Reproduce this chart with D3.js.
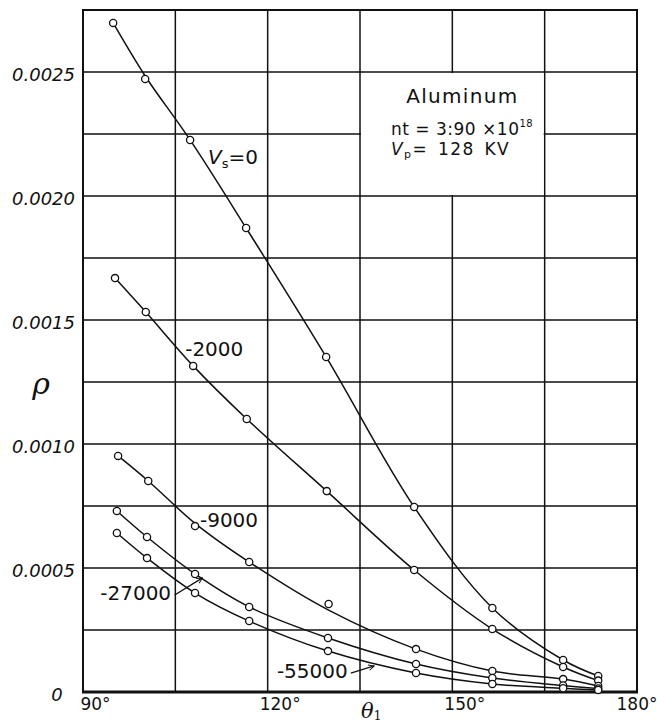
<!DOCTYPE html>
<html>
<head>
<meta charset="utf-8">
<script src="https://cdn.jsdelivr.net/npm/d3@7"></script>
<style>
  body { margin: 0; background: #fff; }
  svg { display: block; }
</style>
</head>
<body>
<svg id="chart" width="657" height="726"></svg>
<script>
// Ratio ρ versus scattering angle θ1 for aluminum, one curve per retarding voltage Vs.

// Angles (degrees) of the measured points for each Vs
const thetaV0     = [94.9, 100.1, 107.4, 116.5, 129.5, 143.8, 156.5, 168.0, 173.7];
const thetaN2000  = [95.2, 100.2, 107.9, 116.6, 129.6, 143.8, 156.5, 168.0, 173.7];
const thetaN9000  = [95.7, 100.6, 108.2, 117.0, 129.9, 144.1, 156.5, 168.0, 173.7];
const thetaN27000 = [95.5, 100.4, 108.2, 117.0, 129.8, 144.1, 156.5, 168.0, 173.7];
const thetaN55000 = [95.5, 100.4, 108.2, 117.0, 129.8, 144.1, 156.5, 168.0, 173.7];

// Measured ρ values
const rhoV0     = [0.002698, 0.002472, 0.002226, 0.001871, 0.001351, 0.000746, 0.000339, 0.000129, 0.0000645];
const rhoN2000  = [0.001669, 0.001532, 0.001315, 0.001101, 0.000810, 0.000492, 0.000254, 0.000101, 0.000046];
const rhoN9000  = [0.000952, 0.000851, 0.000669, 0.000524, 0.000355, 0.000173, 0.0000847, 0.000052, 0.000024];
const rhoN27000 = [0.000730, 0.000625, 0.000476, 0.000343, 0.000218, 0.000113, 0.0000565, 0.000026, 0.000014];
const rhoN55000 = [0.000641, 0.000540, 0.000399, 0.000286, 0.000165, 0.0000766, 0.0000323, 0.000015, 0.000008];

// Smoothed curve values where the drawn curve departs from a measured point
const fitV0    = [0.002698, 0.002484, 0.002226, 0.001871, 0.001351, 0.000746, 0.000339, 0.000129, 0.0000645];
const fitN9000 = [0.000952, 0.000851, 0.000680, 0.000524, 0.000330, 0.000173, 0.0000847, 0.000052, 0.000024];

// Curve labels and their anchor positions in data units [θ, ρ]
const curveLabels = ["0", "-2000", "-9000", "-27000", "-55000"];
const labelTheta  = [110.3, 106.6, 109.0, 92.8, 121.5];
const labelRho    = [0.002129, 0.001355, 0.000665, 0.000371, 0.0000565];

// Pointer arrows for the two lowest curves: [θ0, ρ0, θ1, ρ1]
const arrowN27000 = [104.9, 0.000391, 109.4, 0.000460];
const arrowN55000 = [133.5, 0.0000766, 137.3, 0.000105];

// Axis ticks
const xGridValues = [90, 105, 120, 135, 150, 165, 180];
const xTickValues = [90, 120, 150, 180];
const yGridValues = d3.range(0, 11.5).map(i => i * 0.00025);
const yTickValues = [0.0025, 0.0020, 0.0015, 0.0010, 0.0005, 0];
const yTickLabels = ["0.0025", "0.0020", "0.0015", "0.0010", "0.0005", "0"];

const series = [
  { label: curveLabels[0], theta: thetaV0,     rho: rhoV0,     fit: fitV0 },
  { label: curveLabels[1], theta: thetaN2000,  rho: rhoN2000,  fit: rhoN2000 },
  { label: curveLabels[2], theta: thetaN9000,  rho: rhoN9000,  fit: fitN9000 },
  { label: curveLabels[3], theta: thetaN27000, rho: rhoN27000, fit: rhoN27000 },
  { label: curveLabels[4], theta: thetaN55000, rho: rhoN55000, fit: rhoN55000 }
];

const svg = d3.select("#chart");
const ink = "#111";
const font = "'DejaVu Sans', 'Noto Sans', sans-serif";

const x = d3.scaleLinear().domain([90, 180]).range([83, 637]);
const y = d3.scaleLinear().domain([0, 0.00275]).range([692, 10]);

// Grid
const grid = svg.append("g").attr("stroke", ink).attr("stroke-width", 1.5);
grid.selectAll("line.v").data(xGridValues).join("line")
  .attr("class", "v")
  .attr("x1", d => x(d)).attr("x2", d => x(d))
  .attr("y1", y(0)).attr("y2", y(0.00275));
grid.selectAll("line.h").data(yGridValues).join("line")
  .attr("class", "h")
  .attr("x1", x(90)).attr("x2", x(180))
  .attr("y1", d => y(d)).attr("y2", d => y(d));

// Clear panel behind the sample description
svg.append("rect")
  .attr("x", x(135) + 1).attr("y", y(0.0025) + 1)
  .attr("width", x(165) - x(135) - 2).attr("height", y(0.0020) - y(0.0025) - 2)
  .attr("fill", "#fff");

// Frame
svg.append("rect")
  .attr("x", x(90)).attr("y", y(0.00275))
  .attr("width", x(180) - x(90)).attr("height", y(0) - y(0.00275))
  .attr("fill", "none").attr("stroke", ink).attr("stroke-width", 2);
svg.append("line")
  .attr("x1", x(90) - 1).attr("x2", x(180) + 1)
  .attr("y1", y(0)).attr("y2", y(0))
  .attr("stroke", ink).attr("stroke-width", 3);

// ρ tick labels: decimals share a left edge, the zero sits nearer the axis
svg.append("g").selectAll("text").data(yTickValues).join("text")
  .attr("x", d => d === 0 ? x(90) - 26 : 12)
  .attr("y", d => y(d))
  .attr("dy", "0.5em")
  .attr("text-anchor", d => d === 0 ? "middle" : "start")
  .attr("font-family", font).attr("font-size", 18).attr("font-style", "italic")
  .attr("fill", ink)
  .text((d, i) => yTickLabels[i]);

// θ tick labels
const xAxisG = svg.append("g")
  .attr("transform", `translate(0,${y(0)})`)
  .call(d3.axisBottom(x).tickValues(xTickValues)
    .tickFormat(d => d + "°").tickSize(0).tickPadding(6));
xAxisG.select(".domain").remove();
xAxisG.attr("font-family", null).attr("font-size", null);
xAxisG.selectAll("text")
  .attr("font-family", font).attr("font-size", 17).attr("fill", ink)
  .attr("text-anchor", d => d === 180 ? "end" : "middle")
  .attr("dx", d => d === 180 ? 20 : 12);

// Axis titles
svg.append("text")
  .attr("x", 41).attr("y", 394)
  .attr("text-anchor", "middle")
  .attr("font-family", "'DejaVu Serif', serif").attr("font-style", "italic")
  .attr("font-size", 30).attr("fill", ink)
  .text("ρ");
const thetaTitle = svg.append("text")
  .attr("x", 361).attr("y", 718)
  .attr("font-family", "'DejaVu Serif', serif").attr("font-style", "italic")
  .attr("font-size", 21).attr("fill", ink);
thetaTitle.append("tspan").text("θ");
thetaTitle.append("tspan").attr("dy", 2).attr("font-size", 12).attr("font-style", "normal").text("1");

// Curves
const line = d3.line()
  .x(d => x(d[0])).y(d => y(d[1]))
  .curve(d3.curveCatmullRom.alpha(0.5));
svg.append("g").selectAll("path").data(series).join("path")
  .attr("d", s => line(s.theta.map((t, i) => [t, s.fit[i]])))
  .attr("fill", "none").attr("stroke", ink).attr("stroke-width", 1.5);

// Measured points
svg.append("g").selectAll("g").data(series).join("g")
  .selectAll("circle").data(s => s.theta.map((t, i) => [t, s.rho[i]])).join("circle")
  .attr("cx", d => x(d[0])).attr("cy", d => y(d[1])).attr("r", 3.6)
  .attr("fill", "#fff").attr("stroke", ink).attr("stroke-width", 1.3);

// Curve labels
const labels = svg.append("g")
  .attr("font-family", font).attr("font-size", 20).attr("fill", ink);
curveLabels.forEach((lab, i) => {
  const t = labels.append("text").attr("x", x(labelTheta[i])).attr("y", y(labelRho[i]));
  if (lab === "0") {
    t.append("tspan").attr("font-style", "italic").text("V");
    t.append("tspan").attr("font-size", 13).attr("dy", 4).text("s");
    t.append("tspan").attr("dy", -4).text("=0");
  } else {
    t.text(lab);
  }
});

// Arrows
svg.append("defs").append("marker")
  .attr("id", "head").attr("viewBox", "0 0 10 10")
  .attr("refX", 9).attr("refY", 5)
  .attr("markerWidth", 7).attr("markerHeight", 7)
  .attr("orient", "auto").attr("markerUnits", "userSpaceOnUse")
  .append("path").attr("d", "M1,1 L9,5 L1,9")
  .attr("fill", "none").attr("stroke", ink).attr("stroke-width", 1.4);
[arrowN27000, arrowN55000].forEach(a => {
  svg.append("line")
    .attr("x1", x(a[0])).attr("y1", y(a[1]))
    .attr("x2", x(a[2])).attr("y2", y(a[3]))
    .attr("stroke", ink).attr("stroke-width", 1.3)
    .attr("marker-end", "url(#head)");
});

// Sample description
const boxL = x(135), boxT = y(0.0025);
svg.append("text")
  .attr("x", (x(135) + x(165)) / 2 + 10).attr("y", boxT + 31)
  .attr("text-anchor", "middle")
  .attr("font-family", font).attr("font-size", 20).attr("letter-spacing", 1.3)
  .attr("fill", ink).text("Aluminum");
const nt = svg.append("text")
  .attr("x", boxL + 31).attr("y", boxT + 63)
  .attr("font-family", font).attr("font-size", 17).attr("letter-spacing", 0.5)
  .attr("fill", ink);
nt.append("tspan").text("nt = 3:90 ×10");
nt.append("tspan").attr("font-size", 10).attr("dy", -8).text("18");
const vp = svg.append("text")
  .attr("x", boxL + 31).attr("y", boxT + 83)
  .attr("font-family", font).attr("font-size", 17).attr("letter-spacing", 1.4)
  .attr("fill", ink);
vp.append("tspan").attr("font-style", "italic").text("V");
vp.append("tspan").attr("font-size", 11).attr("dy", 3).text("p");
vp.append("tspan").attr("dy", -3).text("=\u2002128\u2002KV");
</script>
</body>
</html>
